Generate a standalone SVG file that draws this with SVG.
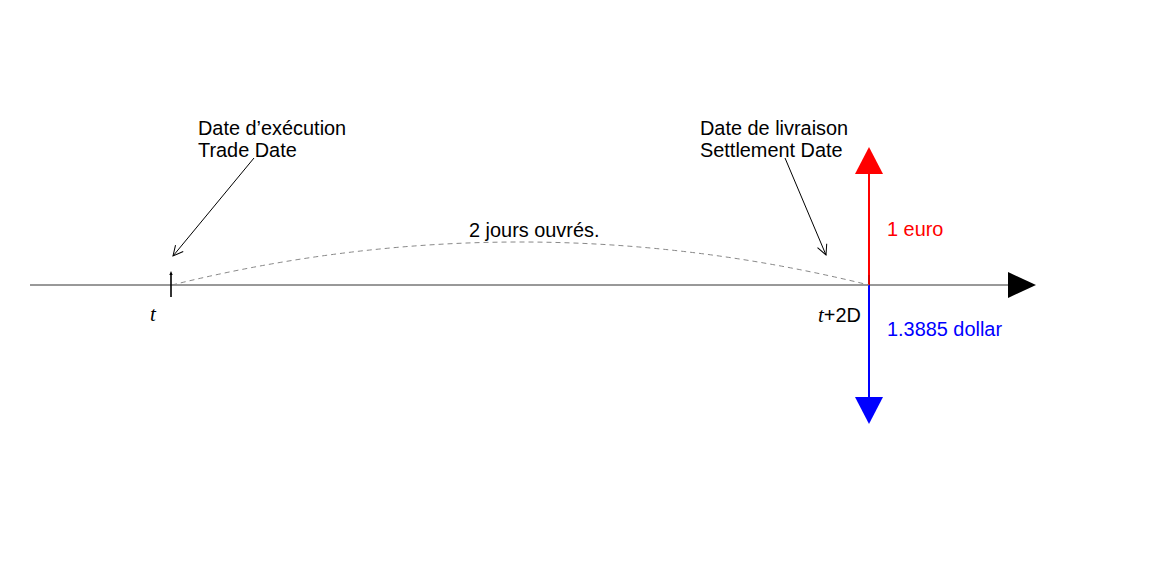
<svg xmlns="http://www.w3.org/2000/svg" width="1154" height="583" viewBox="0 0 1154 583">
<style>
.lbl{font-family:"Liberation Sans",Arial,sans-serif;font-size:19.9px;fill:#000}
.math{font-family:"Liberation Serif","DejaVu Serif",serif;font-style:italic;font-size:21px;fill:#000}
.conn{stroke:#000;stroke-width:1;fill:none}
</style>
<defs>
<marker id="openArrow" markerWidth="14" markerHeight="14" refX="12" refY="7" orient="auto" markerUnits="userSpaceOnUse">
<path d="M2,2 L12,7 L2,12" fill="none" stroke="#000" stroke-width="1"/>
</marker>
</defs>
<rect width="1154" height="583" fill="#fff"/>
<g id="axis">
<line x1="30" y1="285" x2="1010" y2="285" stroke="#333" stroke-width="1"/>
<polygon points="1008,272 1036,285 1008,298" fill="#000"/>
</g>
<g id="trade-tick">
<line x1="171" y1="274" x2="171" y2="297" stroke="#000" stroke-width="1.6"/>
<polygon points="169.3,275 171,271 172.7,275" fill="#000"/>
<text class="math" x="150" y="321">t</text>
</g>
<g id="settle-flows">
<line x1="869" y1="173" x2="869" y2="285" stroke="#f00" stroke-width="2"/>
<polygon points="855,174 869,147 883,174" fill="#f00"/>
<line x1="869" y1="285" x2="869" y2="397" stroke="#00f" stroke-width="2"/>
<polygon points="855,397 869,424 883,397" fill="#00f"/>
<line x1="869" y1="275" x2="869" y2="285" stroke="#000" stroke-width="0.6" opacity="0.5"/>
<text x="818" y="322"><tspan class="math">t</tspan><tspan class="lbl">+2D</tspan></text>
<text class="lbl" x="887" y="236" style="fill:#f00">1 euro</text>
<text class="lbl" x="887" y="336" style="fill:#00f">1.3885 dollar</text>
</g>
<g id="trade-label">
<text class="lbl" x="198" y="134.5">Date d’exécution</text>
<text class="lbl" x="198" y="156.5">Trade Date</text>
</g>
<g id="settle-label">
<text class="lbl" x="700" y="134.5">Date de livraison</text>
<text class="lbl" x="700" y="156.5">Settlement Date</text>
</g>
<g id="span-label">
<text class="lbl" x="469" y="236.5">2 jours ouvrés.</text>
</g>
<g id="connectors">
<path d="M172,285 Q520,199 869,285" stroke="#888" stroke-width="1" fill="none" stroke-dasharray="5,4"/>
<line class="conn" x1="254" y1="158" x2="173" y2="256" marker-end="url(#openArrow)"/>
<line class="conn" x1="785" y1="158" x2="826" y2="255" marker-end="url(#openArrow)"/>
</g>
</svg>
